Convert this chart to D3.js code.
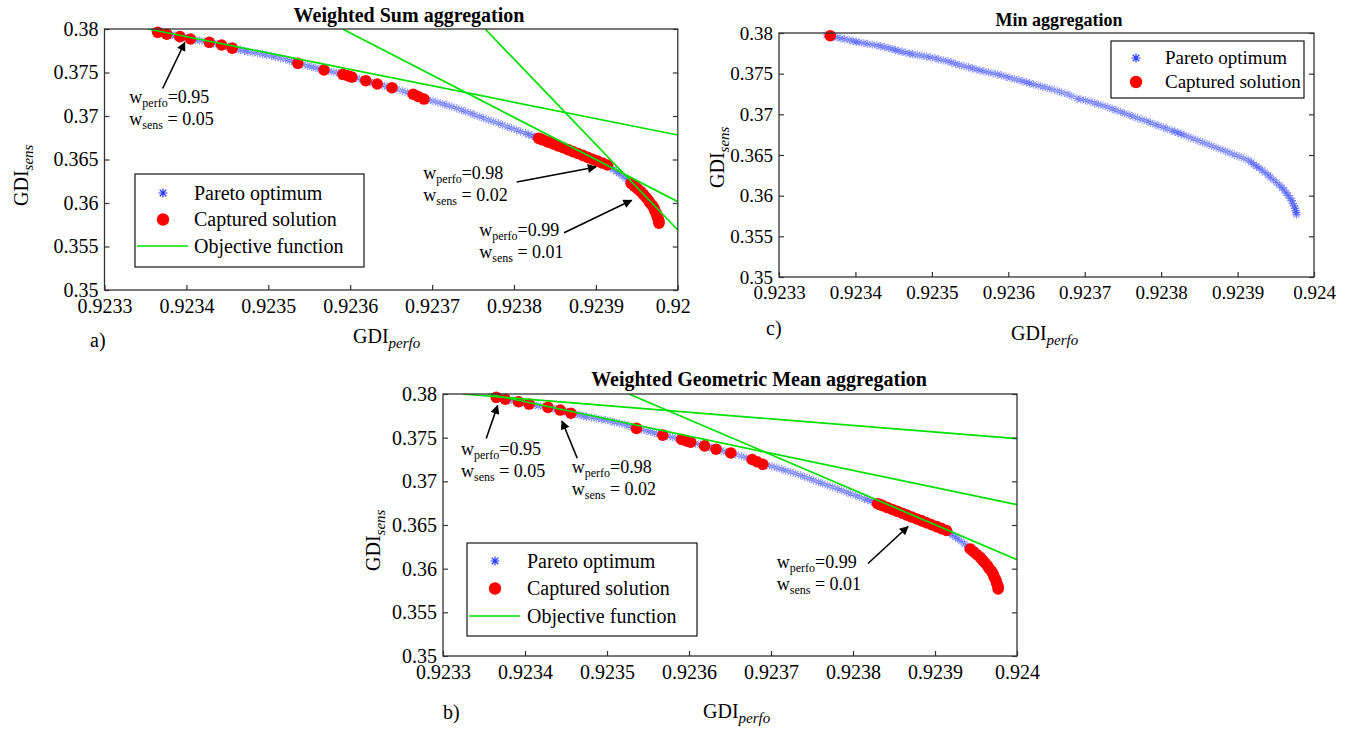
<!DOCTYPE html>
<html>
<head>
<meta charset="utf-8">
<script src="https://cdn.jsdelivr.net/npm/d3@7"></script>
<style>
  body { margin: 0; background: #fff; }
  svg { display: block; }
</style>
</head>
<body>
<svg id="fig" width="1352" height="729"></svg>
<script>
// ---------- data ----------
const xTickValues = [0.9233, 0.9234, 0.9235, 0.9236, 0.9237, 0.9238, 0.9239, 0.924];
const xTickLabels = ["0.9233", "0.9234", "0.9235", "0.9236", "0.9237", "0.9238", "0.9239", "0.924"];
const yTickValues = [0.35, 0.355, 0.36, 0.365, 0.37, 0.375, 0.38];
const yTickLabels = ["0.35", "0.355", "0.36", "0.365", "0.37", "0.375", "0.38"];

// Pareto front (GDI_perfo, GDI_sens)
const paretoPerfo = [
  0.923362, 0.923367, 0.923371, 0.923376, 0.923381, 0.923386, 0.923392, 0.923397, 0.923401, 0.923405,
  0.923411, 0.923416, 0.923422, 0.923428, 0.923433, 0.923438, 0.923443, 0.923448, 0.923452, 0.923456,
  0.923461, 0.923466, 0.923471, 0.923475, 0.923481, 0.923487, 0.923493, 0.923498, 0.923504, 0.923509,
  0.923515, 0.923521, 0.923526, 0.923531, 0.923536, 0.923542, 0.923548, 0.923553, 0.923558, 0.923563,
  0.923568, 0.923574, 0.923580, 0.923586, 0.923591, 0.923597, 0.923602, 0.923608, 0.923614, 0.923619,
  0.923624, 0.923628, 0.923633, 0.923639, 0.923645, 0.923651, 0.923657, 0.923664, 0.923670, 0.923677,
  0.923683, 0.923690, 0.923695, 0.923701, 0.923707, 0.923713, 0.923718, 0.923724, 0.923730, 0.923736,
  0.923741, 0.923747, 0.923752, 0.923758, 0.923763, 0.923769, 0.923775, 0.923781, 0.923786, 0.923792,
  0.923797, 0.923803, 0.923808, 0.923814, 0.923818, 0.923822, 0.923826, 0.923830, 0.923836, 0.923842,
  0.923848, 0.923854, 0.923860, 0.923866, 0.923872, 0.923878, 0.923884, 0.923890, 0.923896, 0.923902,
  0.923908, 0.923914, 0.923918, 0.923921, 0.923925, 0.923928, 0.923932, 0.923936, 0.923940, 0.923943,
  0.923947, 0.923951, 0.923955, 0.923958, 0.923961, 0.923964, 0.923966, 0.923969, 0.923971, 0.923972,
  0.923974, 0.923975, 0.923976, 0.923977, 0.923977
];
const paretoSens = [
  0.37975, 0.37966, 0.37957, 0.37945, 0.37934, 0.37925, 0.37912, 0.37902, 0.37893, 0.37885,
  0.37875, 0.37866, 0.37857, 0.37847, 0.37837, 0.37826, 0.37816, 0.37803, 0.37792, 0.37780,
  0.37770, 0.37759, 0.37748, 0.37739, 0.37729, 0.37720, 0.37710, 0.37701, 0.37689, 0.37677,
  0.37664, 0.37652, 0.37637, 0.37621, 0.37606, 0.37592, 0.37578, 0.37566, 0.37553, 0.37541,
  0.37529, 0.37516, 0.37504, 0.37491, 0.37479, 0.37463, 0.37448, 0.37434, 0.37420, 0.37406,
  0.37393, 0.37381, 0.37368, 0.37353, 0.37339, 0.37325, 0.37307, 0.37288, 0.37269, 0.37250,
  0.37224, 0.37195, 0.37184, 0.37172, 0.37156, 0.37139, 0.37123, 0.37107, 0.37088, 0.37069,
  0.37050, 0.37031, 0.37012, 0.36993, 0.36974, 0.36954, 0.36935, 0.36916, 0.36896, 0.36877,
  0.36858, 0.36839, 0.36820, 0.36801, 0.36787, 0.36773, 0.36759, 0.36744, 0.36722, 0.36700,
  0.36678, 0.36657, 0.36635, 0.36613, 0.36591, 0.36569, 0.36547, 0.36525, 0.36503, 0.36481,
  0.36459, 0.36437, 0.36410, 0.36384, 0.36362, 0.36341, 0.36312, 0.36283, 0.36254, 0.36226,
  0.36194, 0.36162, 0.36130, 0.36098, 0.36066, 0.36034, 0.36002, 0.35970, 0.35939, 0.35907,
  0.35875, 0.35843, 0.35818, 0.35792, 0.35767
];

// Solutions captured by the weighted sum / weighted geometric mean sweeps
const capturedPerfo = [
  0.923365, 0.923376, 0.923392, 0.923405, 0.923428, 0.923443, 0.923456,
  0.923536, 0.923568, 0.923591, 0.923597, 0.923602, 0.923619, 0.923633, 0.923651,
  0.923677, 0.923683, 0.923690,
  0.923830, 0.923833, 0.923836, 0.923842, 0.923848, 0.923854, 0.923860, 0.923866,
  0.923872, 0.923878, 0.923884, 0.923890, 0.923896, 0.923902, 0.923908, 0.923914,
  0.923943, 0.923947, 0.923951, 0.923955, 0.923958, 0.923961, 0.923964, 0.923966,
  0.923969, 0.923971, 0.923972, 0.923974, 0.923975, 0.923976, 0.923977, 0.923977
];
const capturedSens = [
  0.37962, 0.37940, 0.37912, 0.37885, 0.37847, 0.37816, 0.37780,
  0.37606, 0.37529, 0.37479, 0.37463, 0.37448, 0.37406, 0.37368, 0.37325,
  0.37250, 0.37224, 0.37195,
  0.36744, 0.36734, 0.36722, 0.36700, 0.36678, 0.36657, 0.36635, 0.36613,
  0.36591, 0.36569, 0.36547, 0.36525, 0.36503, 0.36481, 0.36459, 0.36437,
  0.36226, 0.36194, 0.36162, 0.36130, 0.36098, 0.36066, 0.36034, 0.36002,
  0.35970, 0.35939, 0.35907, 0.35875, 0.35843, 0.35818, 0.35792, 0.35767
];

// Solution captured by the min aggregation
const minCapturedPerfo = [0.923367];
const minCapturedSens = [0.37966];

// Objective function iso-lines, one per weight pair: [[perfo, sens], [perfo, sens]]
const sumObjectiveLines = [
  [[0.9233532, 0.3800], [0.9240, 0.367816]],   // w_perfo = 0.95
  [[0.9235907, 0.3800], [0.9240, 0.360149]],   // w_perfo = 0.98
  [[0.9237648, 0.3800], [0.9240, 0.356897]]    // w_perfo = 0.99
];
const geoObjectiveLines = [
  [[0.9233234, 0.3800], [0.9240, 0.374881]],   // w_perfo = 0.95
  [[0.9233549, 0.3800], [0.9240, 0.367324]],   // w_perfo = 0.98
  [[0.9235267, 0.3800], [0.9240, 0.361026]]    // w_perfo = 0.99
];

// Weight annotations: text anchor, arrow tail and arrow head in data units
const weightPerfo = ["0.95", "0.98", "0.99"];
const weightSens = ["0.05", "0.02", "0.01"];
const sumNotes = [
  { text: [0.9233303, 0.37149], tail: [0.923371, 0.37316], head: [0.923398, 0.37845] },
  { text: [0.9236893, 0.362759], tail: [0.9238033, 0.362414], head: [0.9239001, 0.364138] },
  { text: [0.9237576, 0.356207], tail: [0.9238611, 0.356586], head: [0.9239436, 0.360310] }
];
const geoNotes = [
  { text: [0.9233220, 0.373015], tail: [0.9233527, 0.374904], head: [0.9233666, 0.378683] },
  { text: [0.9234570, 0.370954], tail: [0.9234637, 0.372637], head: [0.9234451, 0.376908] },
  { text: [0.9237070, 0.360076], tail: [0.9238183, 0.360591], head: [0.9238671, 0.364828] }
];

// ---------- drawing ----------
const FONT = '"Liberation Serif", "Times New Roman", Times, serif';
const BLUE = "#2a3cff";
const RED = "#ff0000";
const GREEN = "#00e000";
const svg = d3.select("#fig");

const defs = svg.append("defs");
defs.append("marker")
  .attr("id", "arrowHead")
  .attr("viewBox", "0 0 10 10")
  .attr("refX", 9).attr("refY", 5)
  .attr("markerWidth", 11).attr("markerHeight", 9)
  .attr("markerUnits", "userSpaceOnUse")
  .attr("orient", "auto")
  .append("path").attr("d", "M0,0 L10,5 L0,10 Z").attr("fill", "#000");

// MATLAB-style '*' marker: plus and cross overlaid
function starPath(r) {
  const k = r * 0.72;
  return `M${-r},0H${r}M0,${-r}V${r}M${-k},${-k}L${k},${k}M${-k},${k}L${k},${-k}`;
}

function subText(g, x, y, main, sub, opts) {
  const t = g.append("text")
    .attr("x", x).attr("y", y)
    .attr("font-family", FONT)
    .attr("font-size", opts.size)
    .attr("fill", "#000");
  if (opts.rotate) t.attr("transform", `rotate(-90,${x},${y})`);
  t.append("tspan").text(main);
  const s = t.append("tspan")
    .attr("dy", opts.subShift)
    .attr("font-size", opts.subSize)
    .text(sub);
  if (opts.italic) s.attr("font-style", "italic");
  if (opts.tail) {
    t.append("tspan").attr("dy", -opts.subShift).text(opts.tail);
  }
  return t;
}

function drawPanel(cfg, idx) {
  const g = svg.append("g");
  if (cfg.clipWidth) {
    const cid = "panelClip" + idx;
    defs.append("clipPath").attr("id", cid)
      .append("rect").attr("x", cfg.clipX0).attr("y", 0)
      .attr("width", cfg.clipWidth).attr("height", 729);
    g.attr("clip-path", `url(#${cid})`);
  }

  const x = d3.scaleLinear().domain([0.9233, 0.924]).range([cfg.left, cfg.right]);
  const y = d3.scaleLinear().domain([0.35, 0.38]).range([cfg.bottom, cfg.top]);

  const plotClip = "plotClip" + idx;
  defs.append("clipPath").attr("id", plotClip)
    .append("rect").attr("x", cfg.left).attr("y", cfg.top)
    .attr("width", cfg.right - cfg.left).attr("height", cfg.bottom - cfg.top);

  // white plot background
  g.append("rect")
    .attr("x", cfg.left).attr("y", cfg.top)
    .attr("width", cfg.right - cfg.left).attr("height", cfg.bottom - cfg.top)
    .attr("fill", "#fff");

  // Pareto optimum
  g.append("g")
    .selectAll("path")
    .data(d3.range(paretoPerfo.length))
    .join("path")
    .attr("transform", i => `translate(${x(paretoPerfo[i])},${y(paretoSens[i])})`)
    .attr("d", starPath(4.2))
    .attr("fill", "none")
    .attr("stroke", BLUE)
    .attr("stroke-opacity", 0.5)
    .attr("stroke-width", 1.15);

  // Captured solutions
  g.append("g")
    .selectAll("circle")
    .data(d3.range(cfg.capP.length))
    .join("circle")
    .attr("cx", i => x(cfg.capP[i]))
    .attr("cy", i => y(cfg.capS[i]))
    .attr("r", 5.8)
    .attr("fill", RED);

  // Objective function lines
  if (cfg.lines) {
    const line = d3.line().x(d => x(d[0])).y(d => y(d[1]));
    g.append("g").attr("clip-path", `url(#${plotClip})`)
      .selectAll("path")
      .data(cfg.lines)
      .join("path")
      .attr("d", line)
      .attr("fill", "none")
      .attr("stroke", GREEN)
      .attr("stroke-width", 1.7);
  }

  // axes with inward ticks
  const styleAxis = a => {
    a.select(".domain").remove();
    a.attr("font-family", FONT).attr("font-size", cfg.tickSize);
    a.selectAll("line").attr("stroke", "#333").attr("stroke-width", 1.2);
    a.selectAll("text").attr("fill", "#000");
  };
  g.append("g").attr("transform", `translate(0,${cfg.bottom})`)
    .call(d3.axisBottom(x).tickValues(xTickValues)
      .tickFormat((d, i) => xTickLabels[i])
      .tickSizeInner(-5).tickSizeOuter(0).tickPadding(8.5))
    .call(styleAxis);
  g.append("g").attr("transform", `translate(${cfg.left},0)`)
    .call(d3.axisLeft(y).tickValues(yTickValues)
      .tickFormat((d, i) => yTickLabels[i])
      .tickSizeInner(-5).tickSizeOuter(0).tickPadding(6))
    .call(styleAxis);
  g.append("g").attr("transform", `translate(${cfg.right},0)`)
    .call(d3.axisRight(y).tickValues(yTickValues).tickFormat("")
      .tickSizeInner(-5).tickSizeOuter(0))
    .call(styleAxis);

  // box
  g.append("rect")
    .attr("x", cfg.left).attr("y", cfg.top)
    .attr("width", cfg.right - cfg.left).attr("height", cfg.bottom - cfg.top)
    .attr("fill", "none").attr("stroke", "#333").attr("stroke-width", 1.3);

  // title
  g.append("text")
    .attr("x", cfg.titleX).attr("y", cfg.titleY)
    .attr("text-anchor", "middle")
    .attr("font-family", FONT).attr("font-weight", "bold")
    .attr("font-size", cfg.titleSize)
    .text(cfg.title);

  // axis labels
  subText(g, cfg.xLabel[0], cfg.xLabel[1], "GDI", "perfo",
    { size: 20, subSize: 15, subShift: 5, italic: true });
  subText(g, cfg.yLabel[0], cfg.yLabel[1], "GDI", "sens",
    { size: 20, subSize: 15, subShift: 5, italic: true, rotate: true });

  // panel tag
  g.append("text")
    .attr("x", cfg.tag[0]).attr("y", cfg.tag[1])
    .attr("font-family", FONT).attr("font-size", 20)
    .text(cfg.tagText);

  // weight annotations
  if (cfg.notes) {
    cfg.notes.forEach((n, i) => {
      g.append("line")
        .attr("x1", x(n.tail[0])).attr("y1", y(n.tail[1]))
        .attr("x2", x(n.head[0])).attr("y2", y(n.head[1]))
        .attr("stroke", "#000").attr("stroke-width", 1.6)
        .attr("marker-end", "url(#arrowHead)");
      const tx = x(n.text[0]), ty = y(n.text[1]);
      subText(g, tx, ty, "w", "perfo",
        { size: 18, subSize: 12, subShift: 4, tail: "=" + weightPerfo[i] });
      subText(g, tx, ty + 22, "w", "sens",
        { size: 18, subSize: 12, subShift: 4, tail: " = " + weightSens[i] });
    });
  }

  // legend
  const L = cfg.legend;
  const lg = g.append("g");
  lg.append("rect")
    .attr("x", L.x).attr("y", L.y).attr("width", L.w).attr("height", L.h)
    .attr("fill", "#fff").attr("stroke", "#000").attr("stroke-width", 1.1);
  L.items.forEach((item, i) => {
    const cy = L.y + L.first + i * L.step;
    if (item === "Pareto optimum") {
      lg.append("path")
        .attr("transform", `translate(${L.markX},${cy})`)
        .attr("d", starPath(4.5))
        .attr("fill", "none").attr("stroke", BLUE).attr("stroke-width", 1.2);
    } else if (item === "Captured solution") {
      lg.append("circle").attr("cx", L.markX).attr("cy", cy).attr("r", 6.2).attr("fill", RED);
    } else {
      lg.append("line")
        .attr("x1", L.markX - 26).attr("x2", L.markX + 25)
        .attr("y1", cy).attr("y2", cy)
        .attr("stroke", GREEN).attr("stroke-width", 1.7);
    }
    lg.append("text")
      .attr("x", L.textX).attr("y", cy).attr("dy", "0.33em")
      .attr("font-family", FONT).attr("font-size", L.size)
      .text(item);
  });
}

const panels = [
  {
    title: "Weighted Sum aggregation", titleX: 409, titleY: 22, titleSize: 20,
    left: 104.5, right: 677.8, top: 29, bottom: 290, tickSize: 20,
    capP: capturedPerfo, capS: capturedSens, lines: sumObjectiveLines, notes: sumNotes,
    xLabel: [353, 343], yLabel: [28, 206], tag: [90, 347], tagText: "a)",
    clipX0: 0, clipWidth: 690,
    legend: { x: 135, y: 174, w: 229, h: 93, first: 19, step: 26.5, markX: 163, textX: 194, size: 20,
      items: ["Pareto optimum", "Captured solution", "Objective function"] }
  },
  {
    title: "Weighted Geometric Mean aggregation", titleX: 759, titleY: 386, titleSize: 20,
    left: 443, right: 1017, top: 394, bottom: 656, tickSize: 20,
    capP: capturedPerfo, capS: capturedSens, lines: geoObjectiveLines, notes: geoNotes,
    xLabel: [703, 718], yLabel: [380, 571], tag: [443, 719], tagText: "b)",
    legend: { x: 467, y: 543, w: 230, h: 93, first: 18, step: 27.5, markX: 495, textX: 527, size: 20,
      items: ["Pareto optimum", "Captured solution", "Objective function"] }
  },
  {
    title: "Min aggregation", titleX: 1059, titleY: 26, titleSize: 18,
    left: 779, right: 1314, top: 33, bottom: 277, tickSize: 19,
    capP: minCapturedPerfo, capS: minCapturedSens, lines: null, notes: null,
    xLabel: [1011, 340], yLabel: [724, 188], tag: [766, 335], tagText: "c)",
    legend: { x: 1111, y: 41, w: 193, h: 57, first: 17, step: 24, markX: 1136, textX: 1165, size: 19,
      items: ["Pareto optimum", "Captured solution"] }
  }
];

panels.forEach((p, i) => drawPanel(p, i));
</script>
</body>
</html>
